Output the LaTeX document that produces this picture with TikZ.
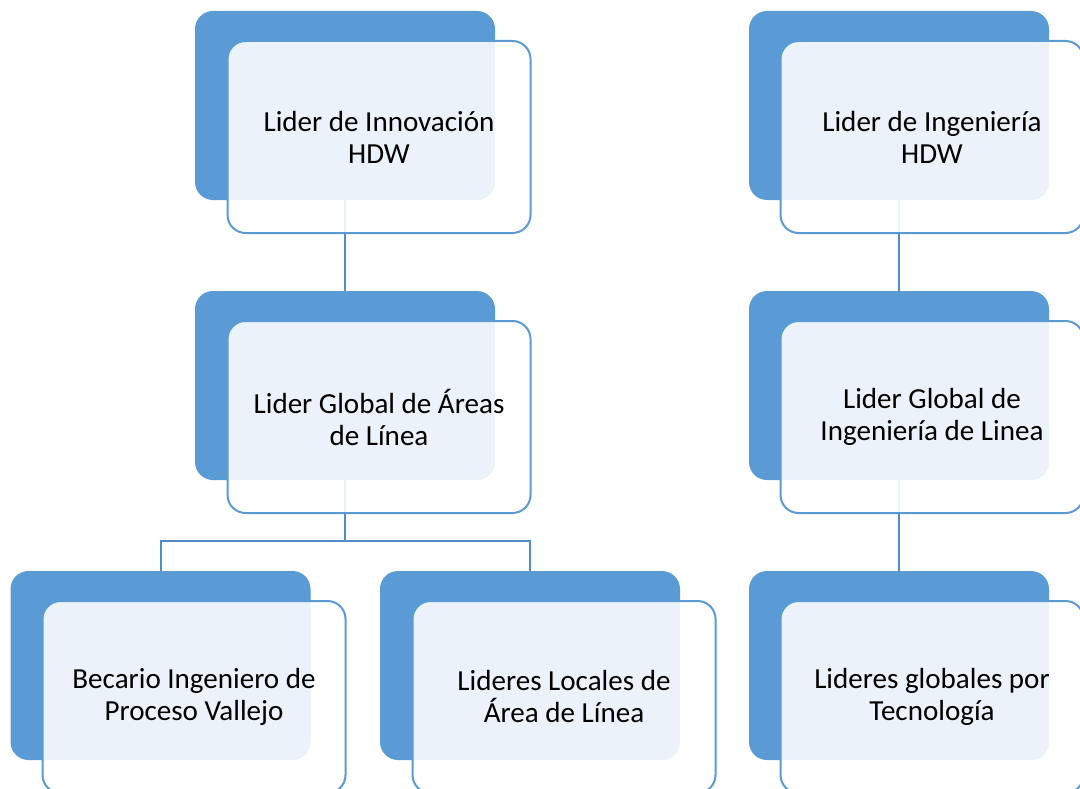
\documentclass[tikz,border=0pt]{standalone}
\usepackage{fontspec}
\setmainfont{Carlito}
\definecolor{accent}{HTML}{5B9BD5}
\definecolor{linkc}{HTML}{4F8CC6}
\begin{document}
\begin{tikzpicture}[x=0.75pt,y=-0.75pt,
  back/.style={rectangle, rounded corners=13.5pt, fill=accent, minimum width=225pt, minimum height=141.75pt, inner sep=0pt},
  front/.style={rectangle, rounded corners=13.5pt, draw=accent, line width=1.5pt, fill=white, fill opacity=0.88, text opacity=1, minimum width=227.25pt, minimum height=144pt, inner sep=0pt, align=center, font=\fontsize{21.8}{24}\selectfont},
  link/.style={draw=linkc, line width=1.5pt}]
\useasboundingbox (0,0) rectangle (1080,788);
\clip (0,0) rectangle (1080,788);
% back rectangles
\node[back] (b1) at (345,105.5) {};
\node[back] (b2) at (345,385.5) {};
\node[back] (b3) at (160.5,665.5) {};
\node[back] (b4) at (530,665.5) {};
\node[back] (b5) at (899,105.5) {};
\node[back] (b6) at (899,385.5) {};
\node[back] (b7) at (899,665.5) {};
% connectors
\draw[link] (b1.south) -- (b2.north);
\draw[link] (b2.south) -- ++(0,61) coordinate (split) -| (b3.north);
\draw[link] (split) -| (b4.north);
\draw[link] (b5.south) -- (b6.north);
\draw[link] (b6.south) -- (b7.north);
% front rectangles
\node[front] (f1) at (379,137) {Lider de Innovación\\HDW};
\node[front] (f2) at (379,417) {Lider Global de Áreas\\de Línea};
\node[front] (f3) at (194,697) {Becario Ingeniero de\\Proceso Vallejo};
\node[front] (f4) at (564,697) {Lideres Locales de\\Área de Línea};
\node[front] (f5) at (932,137) {Lider de Ingeniería\\HDW};
\node[front] (f6) at (932,417) {Lider Global de\\Ingeniería de Linea};
\node[front] (f7) at (932,697) {Lideres globales por\\Tecnología};
\end{tikzpicture}
\end{document}
